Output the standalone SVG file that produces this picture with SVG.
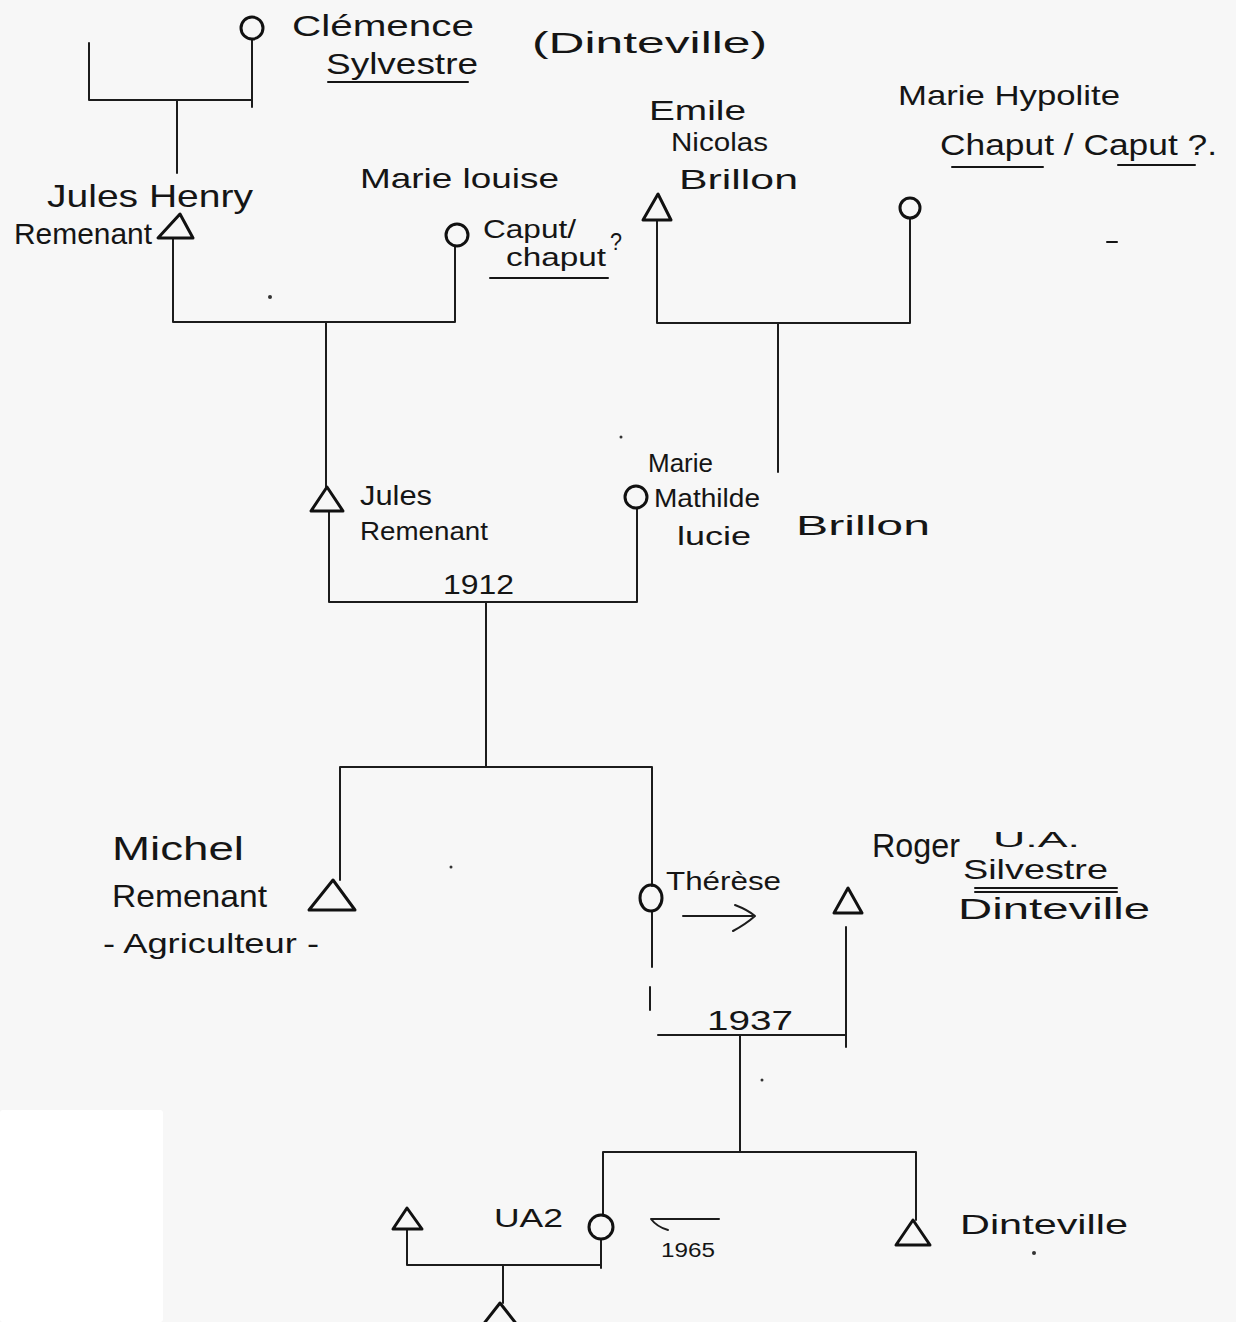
<svg xmlns="http://www.w3.org/2000/svg" width="1236" height="1322" viewBox="0 0 1236 1322">
<style>
.ln{stroke:#1c1c1c;stroke-width:2;fill:none;stroke-linecap:round;stroke-linejoin:round}
.sym{stroke:#111;stroke-width:3;fill:none;stroke-linejoin:round}
.t{font-family:"Liberation Sans",Arial,sans-serif;fill:#151515}
.ul{stroke:#151515;stroke-width:2;fill:none;stroke-linecap:round}
.dot{fill:#333}
</style>
<rect x="0" y="0" width="1236" height="1322" fill="#f7f7f7"/>
<rect x="0" y="1110" width="163" height="212" rx="3" fill="#ffffff"/>

<g id="connectors">
  <path class="ln" d="M89,43 V100 H252"/>
  <path class="ln" d="M252,39 V107"/>
  <path class="ln" d="M177,100 V173"/>
  <path class="ln" d="M173,238 V322 H455 V246"/>
  <path class="ln" d="M326,322 V487"/>
  <path class="ln" d="M657,220 V323 H910 V218"/>
  <path class="ln" d="M778,323 V472"/>
  <path class="ln" d="M329,511 V602 H637 V508"/>
  <path class="ln" d="M486,602 V767"/>
  <path class="ln" d="M340,880 V767 H652 V886"/>
  <path class="ln" d="M652,911 V967"/>
  <path class="ln" d="M650,987 V1010"/>
  <path class="ln" d="M658,1035 H846"/>
  <path class="ln" d="M846,927 V1047"/>
  <path class="ln" d="M740,1035 V1152"/>
  <path class="ln" d="M603,1215 V1152 H916 V1220"/>
  <path class="ln" d="M601,1239 V1268"/>
  <path class="ln" d="M601,1265 H407 V1229"/>
  <path class="ln" d="M503,1265 V1303"/>
</g>

<g id="clemence">
  <circle class="sym" cx="252" cy="28" r="11"/>
  <text class="t" x="292" y="36" font-size="30" textLength="182" lengthAdjust="spacingAndGlyphs">Clémence</text>
  <text class="t" x="326" y="74" font-size="30" textLength="152" lengthAdjust="spacingAndGlyphs">Sylvestre</text>
  <line class="ul" x1="328" y1="82" x2="468" y2="82"/>
  <text class="t" x="532" y="53" font-size="30" textLength="235" lengthAdjust="spacingAndGlyphs">(Dinteville)</text>
</g>

<g id="jules-henry">
  <polygon class="sym" points="180,214 158,238 193,238"/>
  <text class="t" x="47" y="207" font-size="32" textLength="206" lengthAdjust="spacingAndGlyphs">Jules Henry</text>
  <text class="t" x="14" y="244" font-size="30" textLength="138" lengthAdjust="spacingAndGlyphs">Remenant</text>
</g>

<g id="marie-louise">
  <circle class="sym" cx="457" cy="235" r="11"/>
  <text class="t" x="360" y="188" font-size="28" textLength="199" lengthAdjust="spacingAndGlyphs">Marie louise</text>
  <text class="t" x="483" y="238" font-size="26" textLength="93" lengthAdjust="spacingAndGlyphs">Caput/</text>
  <text class="t" x="506" y="266" font-size="26" textLength="100" lengthAdjust="spacingAndGlyphs">chaput</text>
  <text class="t" x="610" y="250" font-size="24" textLength="12" lengthAdjust="spacingAndGlyphs">?</text>
  <line class="ul" x1="490" y1="278" x2="608" y2="278"/>
</g>

<g id="emile">
  <polygon class="sym" points="658,194 643,220 671,220"/>
  <text class="t" x="649" y="120" font-size="28" textLength="97" lengthAdjust="spacingAndGlyphs">Emile</text>
  <text class="t" x="671" y="151" font-size="26" textLength="97" lengthAdjust="spacingAndGlyphs">Nicolas</text>
  <text class="t" x="679" y="189" font-size="28" textLength="119" lengthAdjust="spacingAndGlyphs">Brillon</text>
</g>

<g id="marie-hypolite">
  <circle class="sym" cx="910" cy="208" r="10"/>
  <text class="t" x="898" y="105" font-size="28" textLength="222" lengthAdjust="spacingAndGlyphs">Marie Hypolite</text>
  <text class="t" x="940" y="155" font-size="30" textLength="277" lengthAdjust="spacingAndGlyphs">Chaput / Caput ?.</text>
  <line class="ul" x1="952" y1="167" x2="1043" y2="167"/>
  <line class="ul" x1="1118" y1="165" x2="1195" y2="165"/>
</g>

<g id="jules">
  <polygon class="sym" points="327,487 311,511 343,511"/>
  <text class="t" x="360" y="505" font-size="28" textLength="72" lengthAdjust="spacingAndGlyphs">Jules</text>
  <text class="t" x="360" y="540" font-size="26" textLength="128" lengthAdjust="spacingAndGlyphs">Remenant</text>
</g>

<g id="marie-mathilde">
  <circle class="sym" cx="636" cy="497" r="11"/>
  <text class="t" x="648" y="472" font-size="26" textLength="65" lengthAdjust="spacingAndGlyphs">Marie</text>
  <text class="t" x="654" y="507" font-size="26" textLength="106" lengthAdjust="spacingAndGlyphs">Mathilde</text>
  <text class="t" x="677" y="545" font-size="26" textLength="74" lengthAdjust="spacingAndGlyphs">lucie</text>
  <text class="t" x="796" y="535" font-size="28" textLength="134" lengthAdjust="spacingAndGlyphs">Brillon</text>
</g>

<g id="marriage-1912">
  <text class="t" x="443" y="594" font-size="28" textLength="71" lengthAdjust="spacingAndGlyphs">1912</text>
</g>

<g id="michel">
  <polygon class="sym" points="333,880 309,910 355,910"/>
  <text class="t" x="112" y="860" font-size="34" textLength="132" lengthAdjust="spacingAndGlyphs">Michel</text>
  <text class="t" x="112" y="907" font-size="32" textLength="155" lengthAdjust="spacingAndGlyphs">Remenant</text>
  <text class="t" x="103" y="953" font-size="28" textLength="216" lengthAdjust="spacingAndGlyphs">- Agriculteur -</text>
</g>

<g id="therese">
  <ellipse class="sym" cx="651" cy="898" rx="11" ry="13"/>
  <text class="t" x="666" y="890" font-size="26" textLength="115" lengthAdjust="spacingAndGlyphs">Thérèse</text>
  <path class="ln" d="M683,916 H752 M735,905 Q748,910 755,916 Q746,924 733,931"/>
</g>

<g id="roger">
  <polygon class="sym" points="848,888 834,913 862,913"/>
  <text class="t" x="872" y="857" font-size="34" textLength="88" lengthAdjust="spacingAndGlyphs">Roger</text>
  <text class="t" x="993" y="847" font-size="22" textLength="87" lengthAdjust="spacingAndGlyphs">U.A.</text>
  <text class="t" x="963" y="879" font-size="28" textLength="145" lengthAdjust="spacingAndGlyphs">Silvestre</text>
  <line class="ul" x1="975" y1="888" x2="1117" y2="888"/>
  <line class="ul" x1="975" y1="892" x2="1117" y2="892"/>
  <text class="t" x="958" y="919" font-size="30" textLength="192" lengthAdjust="spacingAndGlyphs">Dinteville</text>
</g>

<g id="marriage-1937">
  <text class="t" x="707" y="1030" font-size="28" textLength="86" lengthAdjust="spacingAndGlyphs">1937</text>
</g>

<g id="ua2">
  <circle class="sym" cx="601" cy="1227" r="12"/>
  <text class="t" x="494" y="1227" font-size="26" textLength="69" lengthAdjust="spacingAndGlyphs">UA2</text>
  <path class="ln" d="M719,1219 H651 M651,1219 Q657,1227 668,1230"/>
  <text class="t" x="661" y="1257" font-size="20" textLength="54" lengthAdjust="spacingAndGlyphs">1965</text>
</g>

<g id="spouse-ua2">
  <polygon class="sym" points="407,1208 393,1229 422,1229"/>
</g>

<g id="dinteville">
  <polygon class="sym" points="913,1220 896,1245 930,1245"/>
  <text class="t" x="960" y="1234" font-size="28" textLength="168" lengthAdjust="spacingAndGlyphs">Dinteville</text>
</g>

<g id="child">
  <polygon class="sym" points="500,1303 482,1326 518,1326"/>
</g>

<g id="marks">
  <circle class="dot" cx="270" cy="297" r="2"/>
  <circle class="dot" cx="621" cy="437" r="1.5"/>
  <circle class="dot" cx="451" cy="867" r="1.5"/>
  <circle class="dot" cx="762" cy="1080" r="1.5"/>
  <circle class="dot" cx="1034" cy="1253" r="2"/>
  <line class="ul" x1="1107" y1="242" x2="1117" y2="242" stroke-width="3"/>
</g>
</svg>
